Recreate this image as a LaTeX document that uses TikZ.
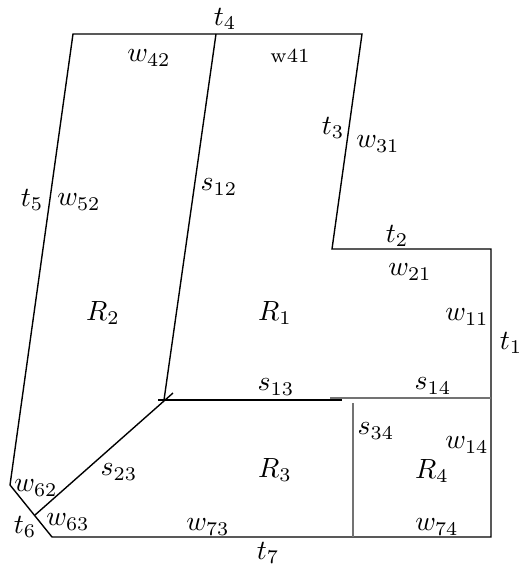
\documentclass[tikz,border=0pt]{standalone}
\begin{document}
\begin{tikzpicture}[x=0.36pt,y=-0.36pt,
  edge/.style={line width=0.5pt,black},
  grayedge/.style={line width=0.5pt,black!55},
  lab/.style={inner sep=0pt}]
\useasboundingbox (0,0) rectangle (521,565);
% corners
\coordinate (A) at (73,34);
\coordinate (B) at (216,34);
\coordinate (C) at (362,34);
\coordinate (D) at (332,249);
\coordinate (E) at (491,249);
\coordinate (F) at (491,398);
\coordinate (G) at (491,537);
\coordinate (H) at (52,537);
\coordinate (I) at (10,485);
\coordinate (J) at (164,400);
\coordinate (K) at (35,515);
\coordinate (Kx) at (173,393);
\coordinate (L0) at (158,400);
\coordinate (L1) at (342,400);
\coordinate (M0) at (330,398);
\coordinate (N0) at (353,403);
\coordinate (N1) at (353,537);
% outline
\draw[edge] (A) -- (C) -- (D) -- (E) -- (G) -- (H) -- (I) -- cycle;
\draw[edge] (B) -- (J);
\draw[edge] (K) -- (Kx);
\draw[edge] (L0) -- (L1);
\draw[grayedge] (M0) -- (F);
\draw[grayedge] (N0) -- (N1);
% labels
\node[lab] (t4) at (225,19) {$t_4$};
\node[lab] (w42) at (149,58) {$w_{42}$};
\node[lab,font=\fontsize{7.2}{8}\selectfont] (w41) at (290,56) {w41};
\node[lab] (t3) at (333,128) {$t_3$};
\node[lab] (w31) at (378,144) {$w_{31}$};
\node[lab] (s12) at (219,187) {$s_{12}$};
\node[lab] (t5) at (32,200) {$t_5$};
\node[lab] (w52) at (79,202) {$w_{52}$};
\node[lab] (t2) at (397,236) {$t_2$};
\node[lab] (w21) at (410,272) {$w_{21}$};
\node[lab] (R2) at (103,313) {$R_2$};
\node[lab] (R1) at (275,313) {$R_1$};
\node[lab] (w11) at (467,317) {$w_{11}$};
\node[lab] (t1) at (511,343) {$t_1$};
\node[lab] (s13) at (276,387) {$s_{13}$};
\node[lab] (s14) at (433,386) {$s_{14}$};
\node[lab] (s34) at (376,431) {$s_{34}$};
\node[lab] (w14) at (467,445) {$w_{14}$};
\node[lab] (R3) at (275,470) {$R_3$};
\node[lab] (R4) at (432,471) {$R_4$};
\node[lab] (s23) at (119,472) {$s_{23}$};
\node[lab] (w62) at (36,488) {$w_{62}$};
\node[lab] (w63) at (68,522) {$w_{63}$};
\node[lab] (t6) at (25,527) {$t_6$};
\node[lab] (w73) at (208,527) {$w_{73}$};
\node[lab] (w74) at (437,527) {$w_{74}$};
\node[lab] (t7) at (268,553) {$t_7$};
\end{tikzpicture}
\end{document}
